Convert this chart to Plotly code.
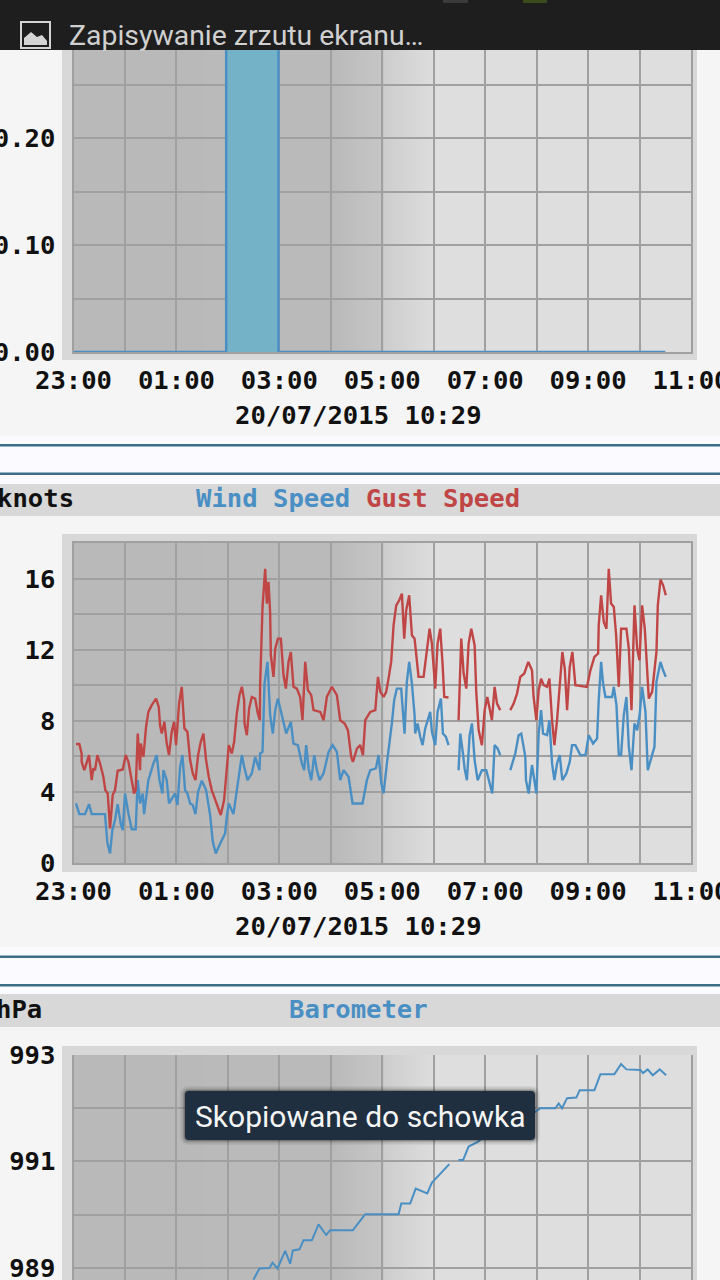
import numpy as np
import plotly.graph_objects as go

# ---------- data (minutes after 23:00) ----------
hour_ticks = [0, 60, 120, 180, 240, 300, 360, 420, 480, 540, 600, 660, 720]
hour_labels = ["23:00", "", "01:00", "", "03:00", "", "05:00", "", "07:00", "", "09:00", "", "11:00"]
stamp = "20/07/2015 10:29"

rain_minutes = [0, 178, 178, 239, 239, 690]
rain_values = [0, 0, 0.31, 0.31, 0, 0]
rain_ticks = [0, 0.05, 0.10, 0.15, 0.20, 0.25, 0.30]
rain_labels = ["0.00", "", "0.10", "", "0.20", "", ""]

wind_ticks = [0, 2, 4, 6, 8, 10, 12, 14, 16, 18]
wind_labels = ["0", "", "4", "", "8", "", "12", "", "16", ""]

gust_minutes = [2.9,6.8,9.5,9.5,12.6,15.4,18.1,21.2,23.1,25.1,27.8,30.9,34.8,37.1,39.9,42.6,45.7,48.4,51.5,57.4,60.9,64,67.9,70.6,72.5,74.9,77.6,78.4,81.5,84.6,87.3,91.2,96.3,99.4,100.9,102.9,106,108.7,111.4,114.5,117.3,119.6,123.1,126.2,129.3,132.8,136,139.1,142.2,145.3,148.4,151.5,154.6,157.7,161.2,167.1,171.7,175.6,178.7,181.1,
    184.6,187.3,190.4,193.5,196.3,199,199.4,202.1,204.8,207.9,211.8,214.9,217.3,217.6,220.4,223.5,225.4,227.4,229.3,230.1,233.2,235.2,238.3,241.8,244.9,247.6,250.7,253.4,256.5,260.4,264.3,267,270.2,273.3,277.2,279.9,287.7,291.6,295.4,301.3,307.1,311,316.1,320,323.8,325.8,330.5,334.3,337.5,340.2,346,351.9,355,357.7,361.6,
    364.6,367.3,370.4,373.2,376.3,379.8,382.9,385.6,387.9,391.4,394.6,397.7,400.4,402.3,408.2,412.1,415.2,417.9,419.8,421.8,424.5,427.6,430.3,432.3,437.3,443,449,450.2,452.1,454.9,458,460.7,463.8,467.7,469.6,472.4,476.2,479.4,482.5,485.2,487.9,491,493.8,497.6,503,509.3,513.2,517.1,521,525.6,530.3,534.6,536.5,539.7,542.4,
    545.2,548.3,552.2,554.9,558,560.7,563.8,566.9,570,572.8,575.5,578.6,581.7,585.2,598.8,602.7,607.4,611.7,612.4,615.2,618.3,621.4,624.1,626.8,630,632.7,635.8,638.5,644.7,647.5,650.6,654.1,657.2,659.9,663,666.1,668.9,670.8,674.7,679.7,681.3,684.4,687.5,690.6]
gust_knots = [6.69,6.69,6.16,5.69,5.22,5.69,6.07,4.66,5.32,5.22,6.07,5.6,4.85,4.1,3.91,1.95,3.82,4.1,5.19,5.26,6.07,5.69,4.76,3.91,4.1,7.28,5.22,6.72,5.97,7.66,8.5,8.88,9.25,8.78,7.75,7.28,7.94,6.72,6.07,7.38,7.94,6.63,8.97,9.91,7.57,7.38,5.79,5.04,4.66,6.07,6.82,7.28,5.79,4.85,4.1,3.35,2.7,3.54,5.22,6.63,
    6.16,6.82,8.41,9.44,9.91,9.16,7.85,7.19,8.69,9.34,9.25,8.41,8.03,10,14.4,16.55,14.59,15.81,14.03,11.69,10.47,12.06,12.62,12.62,10.56,9.81,11.31,11.87,9.91,9.81,9.34,8.03,11.31,9.72,9.44,8.6,8.5,8.03,9.34,9.91,9.44,8.03,7.85,7.47,5.97,5.69,6.44,6.63,6.07,8.03,8.5,8.6,10.47,9.63,9.34,
    9.63,10.37,11.31,13.37,14.49,14.78,15.15,12.62,14.21,15.06,12.81,12.62,11.22,10.47,10.47,12.15,13.18,12.34,10.84,9.81,12.34,13.18,11.22,9.34,9.31,None,8.03,10.19,12.62,10.66,9.81,12.34,13.18,12.25,9.63,7.47,6.63,8.6,9.34,8.69,8.03,9.91,8.97,8.6,None,8.6,8.97,9.53,10.47,10.66,11.31,10.84,9.34,8.03,9.72,
    10.37,10,9.91,10.37,8.03,6.63,8.03,10.19,11.87,10.94,8.6,11.03,11.87,10,9.91,10.84,11.59,11.78,13.37,15.06,13.56,13.18,16.55,14.59,14.4,12.81,9.91,13.18,13.18,12.06,8.6,14.49,12.06,11.4,14.49,13.18,10.56,9.25,9.63,11.87,14.49,15.94,15.62,15.06]

speed_minutes = [2.9,6.8,13.4,18.1,21.2,36.7,39.5,42.6,45.3,48.4,51.5,55,57.4,60.1,64,67.9,72.5,74.9,77.6,80.7,82.3,87.3,93.2,97,100.2,103.7,104.8,108.7,111.4,114.5,118.4,121.2,124.3,127,130.1,132.8,136,139.1,142.2,145.3,149.6,154.6,159.3,162.4,165.9,171,176.8,178.7,181.1,
    186.5,190.4,193.5,196.3,199,202.9,207.9,211.8,216.9,217.6,220.4,222.7,226.2,229.3,232.4,235.2,238.3,241,243.7,248,253.4,256.5,261.6,266.3,269,271.3,274.1,277.2,280.7,283.8,286.9,291.6,297.4,302.1,307.1,311,314.9,320.7,325.4,337,342.1,346,352.6,355.7,358.9,361.6,
    365.4,368.1,371.2,373.9,377,382.1,384,386,388.7,391.4,394.6,397.7,398.4,401.2,404.3,407,410.1,415.9,417.9,421.8,424.5,428.4,430.7,434.2,437.3,443,449,451,454.1,456,458.7,461.9,464.6,467.7,471.2,476.2,481.3,486,488.3,491,494.5,497.6,503,509.3,515.1,519,522.1,526.8,527.6,530.7,534.6,539.7,542.4,
    545.2,547.5,552.2,554.9,558,560.7,563.8,566.9,570,574.7,578.6,581.3,585.2,591,596.9,600.8,605.8,610.5,612.4,615.2,617.5,620.2,628,630,633.1,635.8,638.5,641.6,644.7,647.5,650.6,654.1,657.2,660.3,663,666.9,669.6,673.5,677.4,679.7,684.4,687.5,690.6]
speed_knots = [3.35,2.75,2.75,3.31,2.75,2.75,1.14,0.54,1.85,2.42,3.31,2.23,1.85,3.91,2.79,1.89,1.89,4.66,3.35,3.91,2.75,4.66,5.6,6.07,4.66,3.91,5.22,4.66,3.35,3.63,3.91,3.26,5.41,6.07,4.1,3.91,3.35,3.26,2.75,4.01,4.63,4.1,2.7,1.2,0.54,1.1,1.67,2.6,3.35,
    2.75,4.01,5.22,6.07,5.41,4.66,5.04,5.97,5.22,6.16,6.25,10.09,11.31,8.31,7.28,8.6,9.25,8.69,8.03,7.28,7.94,6.72,6.63,5.6,5.22,6.63,5.32,4.66,6.07,5.22,4.66,5.04,6.25,6.63,6.25,4.66,5.22,4.85,3.35,3.35,4.66,5.22,5.32,6.07,4.48,3.91,
    5.6,6.54,7.85,9.16,9.81,9.81,8.69,7.28,10.19,11.31,10.09,8.31,7.28,7.85,7.1,6.63,7.57,8.5,7.38,6.63,8.5,9.25,7.28,7.1,6.63,None,5.22,7.28,6.16,5.32,4.66,7.19,7.85,5.79,4.66,5.22,5.22,4.29,3.91,6.63,6.44,6.07,None,5.22,6.16,7.19,7.28,5.97,4.66,3.91,5.51,3.91,7.28,
    8.6,7.28,7.19,8.03,5.6,4.66,5.6,6.07,4.66,5.04,5.69,6.63,6.63,6.07,6.07,7.19,6.72,7,9.16,11.31,10.09,9.34,9.34,9.91,8.88,6.07,6.07,8.31,9.34,6.54,5.22,7.85,7.47,8.41,9.91,8.5,5.22,5.88,6.54,10.19,11.31,10.84,10.47]

baro_ticks = [989, 990, 991, 992, 993]
baro_labels = ["989", "", "991", "", "993"]
baro_minutes = [209.8,216.8,228.5,232,237.8,246.8,252.6,255.8,263.5,268.2,277.9,285.7,294.6,299.3,325.8,340.1,379,382.2,392.6,399,412.5,417.8,438.2,443,448.9,454.3,460.7,471.4,485,497,503,509,525,538.5,544.4,561.8,565.7,569.6,575.5,586.3,590.2,607.4,614.4,630.7,638.5,644.7,661,664.1,669.5,675.4,683.5,691]
baro_hpa = [988.78,988.99,989.0,989.10,988.99,989.32,989.08,989.33,989.35,989.52,989.52,989.82,989.62,989.71,989.71,990.01,990.01,990.21,990.21,990.49,990.4,990.6,990.95,None,991.03,991.03,991.28,991.37,991.55,991.7,None,991.78,991.85,991.93,992.0,992.0,992.09,992.0,992.19,992.2,992.34,992.34,992.64,992.64,992.83,992.73,992.72,992.66,992.73,992.62,992.73,992.62]

dusk_minutes = [0, 302, 360, 361, 422, 720]
dusk_shades = [185, 186, 198, 205, 222, 222]

# ---------- styling ----------
W, H = 720, 1280
BLUE, RED = "#4a8fc4", "#c04545"
INK = "#111111"
MONO = "DejaVu Sans Mono"
GRID = "#a0a0a0"
def px(x): return x / W
def py(y): return 1 - y / H

fig = go.Figure()
shapes, notes = [], []

def box(x0, y0, x1, y1, color, layer="below"):
    shapes.append(dict(type="rect", xref="paper", yref="paper", x0=px(x0), x1=px(x1),
                       y0=py(y1), y1=py(y0), fillcolor=color, line_width=0, layer=layer))

def text(x, y, s, color=INK, anchor="center", size=25.6, family=MONO, weight="bold"):
    notes.append(dict(xref="paper", yref="paper", x=px(x), y=py(y), text=s, showarrow=False,
                      xanchor=anchor, yanchor="middle", borderpad=0,
                      font=dict(family=family, size=size, color=color, weight=weight)))

# page furniture (drawn first so that the shading sits over it)
box(0, 436, W, 484, "#fafaff")
box(0, 444, W, 446.5, "#3b6e88")
box(0, 472.5, W, 475, "#3b6e88")
box(0, 947, W, 994, "#fafaff")
box(0, 955.5, W, 958, "#3b6e88")
box(0, 984, W, 986.5, "#3b6e88")
box(0, 484, W, 516, "#d8d8d8")
box(0, 994, W, 1027, "#d8d8d8")
box(62, 0, 697, 360, "#d8d8d8")
box(62, 534, 697, 872, "#d8d8d8")
box(62, 1046, 697, 1280, "#d8d8d8")

LEFT, RIGHT = 73.5, 691
panels = [(31, 352, rain_ticks, rain_labels, [0, 0.30]),
          (543, 863, wind_ticks, wind_labels, [0, 18]),
          (1055, 1280, baro_ticks, baro_labels, [989 - 12 / 53.2, 993])]

layout = dict(width=W, height=H, margin=dict(l=0, r=0, t=0, b=0, autoexpand=False), autosize=False,
              paper_bgcolor="#f5f5f5", plot_bgcolor="rgba(0,0,0,0)", showlegend=False,
              hovermode=False)

for i, (top, bottom, yticks, ylabels, yrange) in enumerate(panels, start=1):
    suffix = "" if i == 1 else str(i)
    layout["xaxis" + suffix] = dict(
        domain=[px(LEFT), px(RIGHT)], range=[0, 720], anchor="y" + suffix, tickmode="array",
        tickvals=hour_ticks, ticktext=hour_labels if i < 3 else [""] * 13, showgrid=True,
        gridcolor=GRID, gridwidth=2, zeroline=False, showline=i < 3, mirror=i < 3,
        linecolor=GRID, linewidth=2, ticks="", ticklabelstandoff=4, ticklabeloverflow="allow",
        layer="below traces",
        tickfont=dict(family=MONO, size=25.6, color=INK, weight="bold"))
    layout["yaxis" + suffix] = dict(
        domain=[py(bottom), py(top)], range=yrange, anchor="x" + suffix, tickmode="array",
        tickvals=yticks, ticktext=ylabels, showgrid=True, gridcolor=GRID, gridwidth=2,
        zeroline=False, showline=True, mirror=True, linecolor=GRID, linewidth=2, ticks="",
        ticklabelstandoff=11, ticklabeloverflow="allow", layer="below traces",
        tickfont=dict(family=MONO, size=25.6, color=INK, weight="bold"))
    # night-to-day shading behind the grid; each band runs to the right edge so no seams show
    edges = np.arange(0, 722, 2)
    shades = np.interp(edges, dusk_minutes, dusk_shades)
    start = 0
    for j in range(1, len(edges) + 1):
        if j == len(edges) or round(shades[j]) != round(shades[start]):
            g = int(round(shades[start]))
            shapes.append(dict(type="rect", xref="x" + suffix, yref="y" + suffix + " domain",
                               x0=float(edges[start]), x1=720, y0=0, y1=1,
                               fillcolor=f"rgb({g},{g},{g})", line_width=0, layer="below"))
            start = j

# marks
fig.add_trace(go.Scatter(x=rain_minutes, y=rain_values, mode="lines", xaxis="x", yaxis="y",
                         line=dict(color=BLUE, width=2.4), fill="tozeroy", fillcolor="#74b2c8",
                         cliponaxis=False))
fig.add_trace(go.Scatter(x=speed_minutes, y=speed_knots, mode="lines", xaxis="x2", yaxis="y2",
                         line=dict(color=BLUE, width=2.4), name="Wind Speed"))
fig.add_trace(go.Scatter(x=gust_minutes, y=gust_knots, mode="lines", xaxis="x2", yaxis="y2",
                         line=dict(color=RED, width=2.4), name="Gust Speed"))
fig.add_trace(go.Scatter(x=baro_minutes, y=baro_hpa, mode="lines", xaxis="x3", yaxis="y3",
                         line=dict(color=BLUE, width=2), name="Barometer"))

# chart texts
text(358, 415, stamp)
text(358, 926, stamp)
text(75, 498, "knots", anchor="right")
text(273, 498, "Wind Speed", color=BLUE)
text(443, 498, "Gust Speed", color=RED)
text(43, 1009, "hPa", anchor="right")
text(358, 1009, "Barometer", color=BLUE)

# system status bar
box(0, 0, W, 50, "#1e1e1e", layer="above")
box(443, 0, 468, 3, "#3a3a3a", layer="above")
box(523, 0, 547, 3, "#3a4a1a", layer="above")
shapes.append(dict(type="rect", xref="paper", yref="paper", x0=px(21), x1=px(50), y0=py(48), y1=py(22),
                   line=dict(color="#d4d4d4", width=2), fillcolor="rgba(0,0,0,0)", layer="above"))
shapes.append(dict(type="path", xref="paper", yref="paper", layer="above", fillcolor="#d4d4d4", line_width=0,
                   path=f"M {px(24)} {py(45)} L {px(24)} {py(38)} L {px(31)} {py(32)} L {px(37)} {py(37)} "
                        f"L {px(42)} {py(35)} L {px(47)} {py(41)} L {px(47)} {py(45)} Z"))
text(68, 36, "Zapisywanie zrzutu ekranu…", color="#d0d0d0", anchor="left", size=28.4, family="Roboto", weight="normal")

# toast with soft shadow
def toast(x0, y0, x1, y1, r, color):
    return dict(type="path", xref="paper", yref="paper", layer="above", fillcolor=color, line_width=0,
                path=f"M {px(x0+r)} {py(y0)} L {px(x1-r)} {py(y0)} Q {px(x1)} {py(y0)} {px(x1)} {py(y0+r)} "
                     f"L {px(x1)} {py(y1-r)} Q {px(x1)} {py(y1)} {px(x1-r)} {py(y1)} "
                     f"L {px(x0+r)} {py(y1)} Q {px(x0)} {py(y1)} {px(x0)} {py(y1-r)} "
                     f"L {px(x0)} {py(y0+r)} Q {px(x0)} {py(y0)} {px(x0+r)} {py(y0)} Z")
for grow, alpha in [(5, 0.05), (3.5, 0.08), (2, 0.12), (1, 0.18)]:
    shapes.append(toast(185 - grow, 1091 - grow, 535 + grow, 1140 + grow, 4 + grow, f"rgba(0,0,0,{alpha})"))
shapes.append(toast(185, 1091, 535, 1140, 4, "#1f2f3f"))
text(360, 1116, "Skopiowane do schowka", color="#f5f5f5", size=30, family="Roboto", weight="normal")

layout["shapes"] = shapes
layout["annotations"] = notes
fig.update_layout(**layout)

fig.write_html("out.html", config={"displayModeBar": False, "staticPlot": True},
               post_script="document.body.style.margin='0';document.documentElement.style.overflow='hidden';document.body.style.overflow='hidden';")
